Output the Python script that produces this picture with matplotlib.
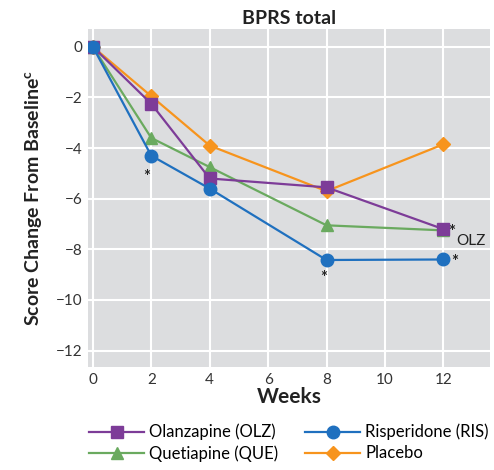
import matplotlib
matplotlib.use("Agg")
import matplotlib.pyplot as plt

plt.rcParams['font.family'] = ['Lato', 'DejaVu Sans']

weeks = [0, 2, 4, 8, 12]
olanzapine = [0, -2.25, -5.2, -5.55, -7.2]
quetiapine = [0, -3.6, -4.75, -7.05, -7.25]
risperidone = [0, -4.3, -5.6, -8.42, -8.4]
placebo = [0, -1.95, -3.9, -5.7, -3.85]

series = [
    ("Olanzapine (OLZ)", olanzapine, "#7d3c98", "s"),
    ("Quetiapine (QUE)", quetiapine, "#6aaa5f", "^"),
    ("Risperidone (RIS)", risperidone, "#1f70bf", "o"),
    ("Placebo", placebo, "#f7941d", "D"),
]

fig = plt.figure(figsize=(4.94, 4.70), dpi=100)
ax = fig.add_axes([0.178, 0.219, 0.814, 0.719])
ax.set_facecolor("#dcdddf")

# draw order: placebo behind, risperidone on top
handles = {}
for name, vals, col, mk in [series[3], series[1], series[0], series[2]]:
    ms = {"D": 7.5, "s": 8.5, "^": 8.5, "o": 9}[mk]
    h, = ax.plot(weeks, vals, color=col, marker=mk, markersize=ms, linewidth=1.6, label=name)
    handles[name] = h

# significance marks
star = dict(ha="center", va="center", fontsize=12, color="#222222", fontweight="bold")
ax.text(1.85, -5.15, "*", **star)
ax.text(7.9, -9.15, "*", **star)
ax.text(12.4, -8.5, "*", **star)
ax.text(12.3, -7.3, "*", **star)
ax.text(12.45, -7.65, "OLZ", ha="left", va="center", fontsize=11, color="#222222")

ax.set_xlim(-0.17, 13.6)
ax.set_ylim(-12.65, 0.7)
ax.set_xticks([0, 2, 4, 6, 8, 10, 12])
ax.set_yticks([0, -2, -4, -6, -8, -10, -12])
ax.set_yticklabels(["0", "\u22122", "\u22124", "\u22126", "\u22128", "\u221210", "\u221212"])
ax.grid(True, color="white", linewidth=1.5)
ax.set_axisbelow(True)
for s in ax.spines.values():
    s.set_visible(False)
ax.tick_params(length=0, labelsize=11, colors="#333333", pad=4)

ax.set_title("BPRS total", fontsize=14, fontweight="bold", color="#222222", pad=4)
ax.set_xlabel("Weeks", fontsize=15, fontweight="bold", color="#222222")
ax.xaxis.set_label_coords(0.5, -0.06)
ax.set_ylabel("Score Change From Baseline$^{\\mathregular{c}}$", fontsize=14, fontweight="bold",
              color="#222222", labelpad=8)

order = ["Olanzapine (OLZ)", "Quetiapine (QUE)", "Risperidone (RIS)", "Placebo"]
fig.legend([handles[n] for n in order], order, loc="lower center", bbox_to_anchor=(0.585, -0.015),
           ncol=2, frameon=False, fontsize=12, handlelength=3.3, handletextpad=0.3,
           columnspacing=1.6, labelspacing=0.3)

fig.savefig("out.png", dpi=100)
